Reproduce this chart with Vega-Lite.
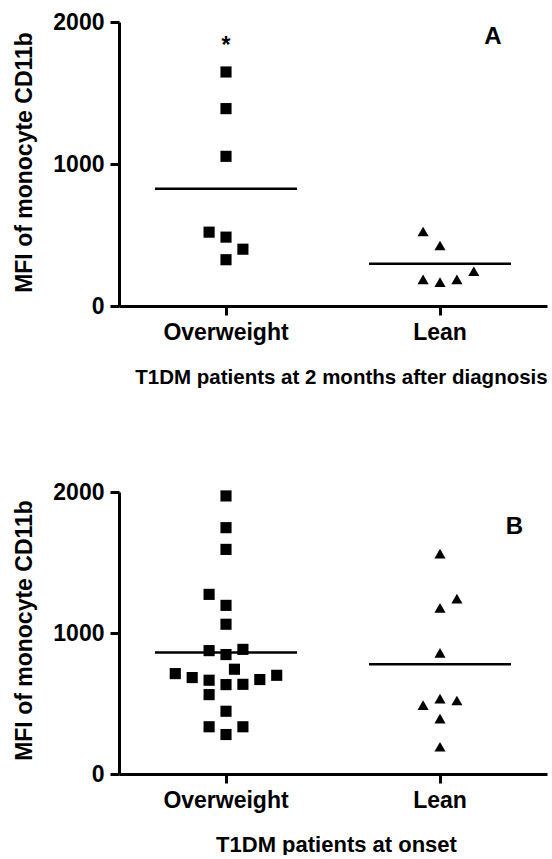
{
  "$schema": "https://vega.github.io/schema/vega-lite/v6.json",
  "padding": {"left": 12, "top": 11, "right": 5, "bottom": 0},
  "spacing": 93,
  "background": "white",
  "config": {
    "view": {"stroke": null},
    "font": "Liberation Sans",
    "axis": {
      "domainColor": "black", "domainWidth": 3, "tickColor": "black", "tickWidth": 3, "tickSize": 9,
      "labelFont": "Liberation Sans", "labelFontSize": 23, "labelFontWeight": "bold", "labelColor": "black",
      "titleFont": "Liberation Sans", "titleFontSize": 22, "titleFontWeight": "bold", "titleColor": "black",
      "grid": false
    },
    "axisX": {"labelPadding": 6, "labelAngle": 0},
    "axisY": {"labelPadding": 6, "format": "d"}
  },
  "datasets": {
    "pts": [
      {"panel": "A", "group": "Overweight", "col": 0, "value": 1648},
      {"panel": "A", "group": "Overweight", "col": 0, "value": 1390},
      {"panel": "A", "group": "Overweight", "col": 0, "value": 1054},
      {"panel": "A", "group": "Overweight", "col": -1, "value": 520},
      {"panel": "A", "group": "Overweight", "col": 0, "value": 485},
      {"panel": "A", "group": "Overweight", "col": 1, "value": 400},
      {"panel": "A", "group": "Overweight", "col": 0, "value": 326},
      {"panel": "A", "group": "Lean", "col": -1, "value": 525},
      {"panel": "A", "group": "Lean", "col": 0, "value": 426},
      {"panel": "A", "group": "Lean", "col": -1, "value": 187},
      {"panel": "A", "group": "Lean", "col": 0, "value": 168},
      {"panel": "A", "group": "Lean", "col": 1, "value": 187},
      {"panel": "A", "group": "Lean", "col": 2, "value": 245},
      {"panel": "B", "group": "Overweight", "col": 0, "value": 1972},
      {"panel": "B", "group": "Overweight", "col": 0, "value": 1747},
      {"panel": "B", "group": "Overweight", "col": 0, "value": 1593},
      {"panel": "B", "group": "Overweight", "col": -1, "value": 1274},
      {"panel": "B", "group": "Overweight", "col": 0, "value": 1196},
      {"panel": "B", "group": "Overweight", "col": 0, "value": 1062},
      {"panel": "B", "group": "Overweight", "col": -1, "value": 875},
      {"panel": "B", "group": "Overweight", "col": 0, "value": 847},
      {"panel": "B", "group": "Overweight", "col": 1, "value": 884},
      {"panel": "B", "group": "Overweight", "col": 0.5, "value": 743},
      {"panel": "B", "group": "Overweight", "col": -3, "value": 712},
      {"panel": "B", "group": "Overweight", "col": -2, "value": 684},
      {"panel": "B", "group": "Overweight", "col": -1, "value": 665},
      {"panel": "B", "group": "Overweight", "col": 0, "value": 634},
      {"panel": "B", "group": "Overweight", "col": 1, "value": 636},
      {"panel": "B", "group": "Overweight", "col": 2, "value": 670},
      {"panel": "B", "group": "Overweight", "col": 3, "value": 700},
      {"panel": "B", "group": "Overweight", "col": -1, "value": 563},
      {"panel": "B", "group": "Overweight", "col": 0, "value": 445},
      {"panel": "B", "group": "Overweight", "col": -1, "value": 335},
      {"panel": "B", "group": "Overweight", "col": 0, "value": 280},
      {"panel": "B", "group": "Overweight", "col": 1, "value": 335},
      {"panel": "B", "group": "Lean", "col": 0, "value": 1563},
      {"panel": "B", "group": "Lean", "col": 1, "value": 1244},
      {"panel": "B", "group": "Lean", "col": 0, "value": 1178},
      {"panel": "B", "group": "Lean", "col": 0, "value": 859},
      {"panel": "B", "group": "Lean", "col": 0, "value": 535},
      {"panel": "B", "group": "Lean", "col": 1, "value": 521},
      {"panel": "B", "group": "Lean", "col": -1, "value": 488},
      {"panel": "B", "group": "Lean", "col": 0, "value": 393},
      {"panel": "B", "group": "Lean", "col": 0, "value": 193}
    ],
    "means": [
      {"panel": "A", "group": "Overweight", "value": 826},
      {"panel": "A", "group": "Lean", "value": 297},
      {"panel": "B", "group": "Overweight", "value": 861},
      {"panel": "B", "group": "Lean", "value": 778}
    ],
    "notes": [
      {"panel": "A", "group": "Overweight", "col": 0, "value": 1785, "label": "*"}
    ],
    "letters": [
      {"panel": "A", "group": "Lean", "col": 3.13, "value": 1848, "label": "A"},
      {"panel": "B", "group": "Lean", "col": 4.4, "value": 1704, "label": "B"}
    ]
  },
  "vconcat": [
    {
      "width": 428, "height": 284,
      "layer": [
        {
          "data": {"name": "pts"},
          "transform": [{"filter": "datum.panel === 'A'"}],
          "mark": {"type": "point", "filled": true, "opacity": 1, "color": "black", "size": 124},
          "encoding": {
            "x": {"field": "group", "type": "nominal", "sort": ["Overweight", "Lean"], "scale": {"type": "band", "domain": ["Overweight", "Lean"], "paddingInner": 0, "paddingOuter": 0}, "axis": {"title": "T1DM patients at 2 months after diagnosis", "titleY": 77, "titleX": 222, "titleBaseline": "alphabetic", "titleFontSize": 20.5}},
            "xOffset": {"field": "col", "type": "quantitative", "scale": {"domain": [-6.33, 6.33], "range": [0, 214]}},
            "y": {"field": "value", "type": "quantitative", "scale": {"domain": [0, 2000], "nice": false}, "axis": {"title": "MFI of monocyte CD11b", "values": [0, 1000, 2000], "titleX": -88, "titleY": 140, "titleBaseline": "alphabetic", "titleFontSize": 23}},
            "shape": {"field": "group", "type": "nominal", "scale": {"domain": ["Overweight", "Lean"], "range": ["square", "triangle-up"]}, "legend": null}
          }
        },
        {
          "data": {"name": "means"},
          "transform": [{"filter": "datum.panel === 'A'"}],
          "mark": {"type": "tick", "color": "black", "thickness": 2.5, "size": 142, "opacity": 1},
          "encoding": {
            "x": {"field": "group", "type": "nominal"},
            "y": {"field": "value", "type": "quantitative"}
          }
        },
        {
          "data": {"name": "notes"},
          "transform": [{"filter": "datum.panel === 'A'"}],
          "mark": {"type": "text", "fontSize": 23, "fontWeight": "bold", "baseline": "alphabetic", "color": "black"},
          "encoding": {
            "x": {"field": "group", "type": "nominal"},
            "xOffset": {"field": "col", "type": "quantitative"},
            "y": {"field": "value", "type": "quantitative"},
            "text": {"field": "label"}
          }
        },
        {
          "data": {"name": "letters"},
          "transform": [{"filter": "datum.panel === 'A'"}],
          "mark": {"type": "text", "fontSize": 24, "fontWeight": "bold", "baseline": "alphabetic", "color": "black"},
          "encoding": {
            "x": {"field": "group", "type": "nominal"},
            "xOffset": {"field": "col", "type": "quantitative"},
            "y": {"field": "value", "type": "quantitative"},
            "text": {"field": "label"}
          }
        }
      ]
    },
    {
      "width": 428, "height": 282,
      "layer": [
        {
          "data": {"name": "pts"},
          "transform": [{"filter": "datum.panel === 'B'"}],
          "mark": {"type": "point", "filled": true, "opacity": 1, "color": "black", "size": 124},
          "encoding": {
            "x": {"field": "group", "type": "nominal", "sort": ["Overweight", "Lean"], "scale": {"type": "band", "domain": ["Overweight", "Lean"], "paddingInner": 0, "paddingOuter": 0}, "axis": {"title": "T1DM patients at onset", "titleY": 77, "titleX": 217, "titleBaseline": "alphabetic"}},
            "xOffset": {"field": "col", "type": "quantitative", "scale": {"domain": [-6.33, 6.33], "range": [0, 214]}},
            "y": {"field": "value", "type": "quantitative", "scale": {"domain": [0, 2000], "nice": false}, "axis": {"title": "MFI of monocyte CD11b", "values": [0, 1000, 2000], "titleX": -88, "titleY": 138, "titleBaseline": "alphabetic", "titleFontSize": 23}},
            "shape": {"field": "group", "type": "nominal", "scale": {"domain": ["Overweight", "Lean"], "range": ["square", "triangle-up"]}, "legend": null}
          }
        },
        {
          "data": {"name": "means"},
          "transform": [{"filter": "datum.panel === 'B'"}],
          "mark": {"type": "tick", "color": "black", "thickness": 2.5, "size": 142, "opacity": 1},
          "encoding": {
            "x": {"field": "group", "type": "nominal"},
            "y": {"field": "value", "type": "quantitative"}
          }
        },
        {
          "data": {"name": "letters"},
          "transform": [{"filter": "datum.panel === 'B'"}],
          "mark": {"type": "text", "fontSize": 24, "fontWeight": "bold", "baseline": "alphabetic", "color": "black"},
          "encoding": {
            "x": {"field": "group", "type": "nominal"},
            "xOffset": {"field": "col", "type": "quantitative"},
            "y": {"field": "value", "type": "quantitative"},
            "text": {"field": "label"}
          }
        }
      ]
    }
  ]
}
